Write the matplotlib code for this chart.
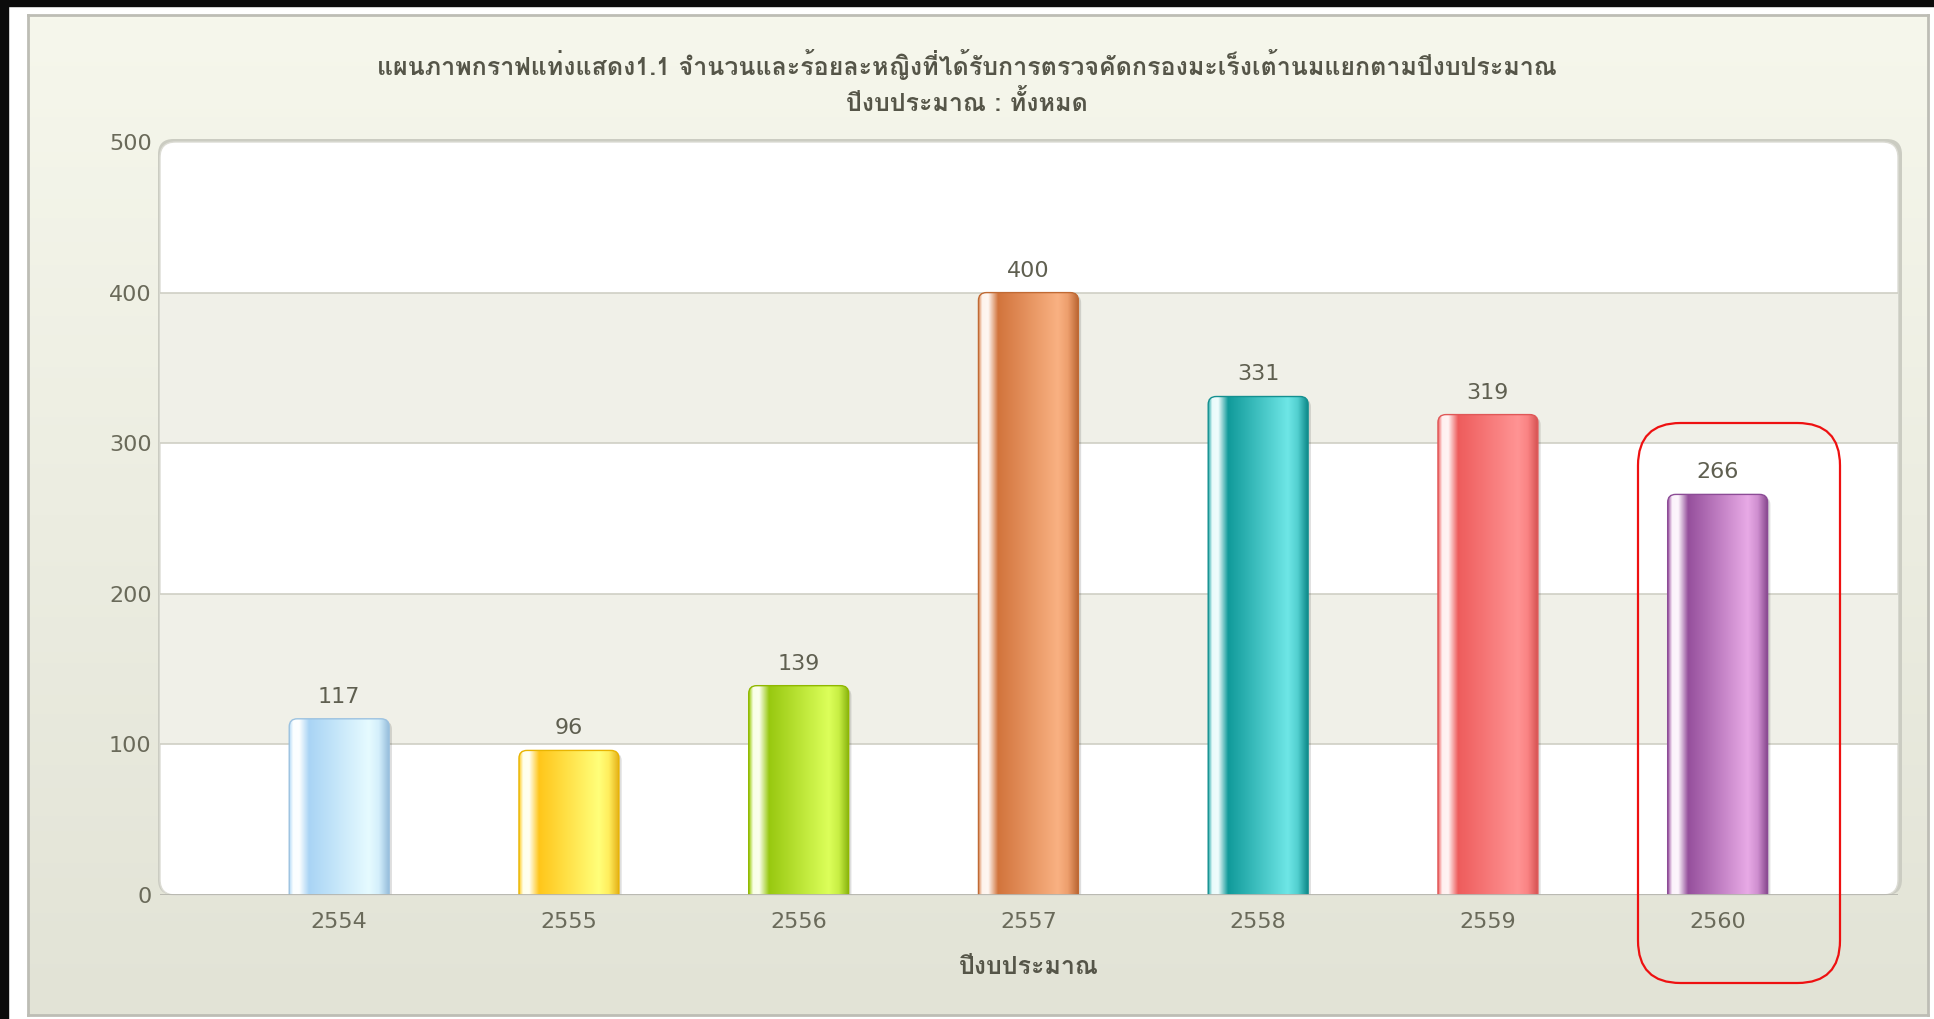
import numpy as np
import matplotlib
matplotlib.use('Agg')
import matplotlib.pyplot as plt
from matplotlib.patches import FancyBboxPatch, Rectangle
from matplotlib.colors import to_rgb

# data
years = ['2554', '2555', '2556', '2557', '2558', '2559', '2560']
counts = [117, 96, 139, 400, 331, 319, 266]
y_ticks = [0, 100, 200, 300, 400, 500]
title_1 = 'แผนภาพกราฟแท่งแสดง1.1 จำนวนและร้อยละหญิงที่ได้รับการตรวจคัดกรองมะเร็งเต้านมแยกตามปีงบประมาณ'
title_2 = 'ปีงบประมาณ : ทั้งหมด'
x_title = 'ปีงบประมาณ'

# bar colours: (dark, light)
bar_cols = [('#a9d4f5', '#e6fbff'), ('#ffc61a', '#ffff7a'), ('#98c810', '#dcff5a'),
            ('#d2743c', '#f9b182'), ('#109a9a', '#6ee6e6'), ('#ee5c5c', '#ff9494'),
            ('#954f9c', '#e8aae6')]
edge_cols = ['#9cc2e0', '#e8b400', '#90b800', '#c06a34', '#149090', '#e05858', '#8c4c96']

plt.rcParams['font.family'] = ['Loma', 'DejaVu Sans']

W, H = 1934, 1019
fig = plt.figure(figsize=(W / 100, H / 100), dpi=100)
fig.patch.set_facecolor('white')

# black frame strips
fig.patches.append(Rectangle((0, 1 - 6 / H), 1, 6 / H, transform=fig.transFigure, color='#0c0c0c', zorder=-5))
fig.patches.append(Rectangle((0, 0), 8 / W, 1, transform=fig.transFigure, color='#0c0c0c', zorder=-5))

# panel with vertical gradient
bg = fig.add_axes([28 / W, (H - 1015) / H, 1900 / W, 1000 / H])
bg.set_zorder(-4)
grad = np.linspace(0, 1, 256)[:, None, None]
top = np.array(to_rgb('#f6f7ec'))
bot = np.array(to_rgb('#e2e3d6'))
bg.imshow(top + (bot - top) * grad, aspect='auto', extent=[0, 1, 0, 1], origin='upper')
bg.set_xlim(0, 1)
bg.set_ylim(0, 1)
bg.set_xticks([])
bg.set_yticks([])
for s in bg.spines.values():
    s.set_color('#bdbdb5')
    s.set_linewidth(2)

# plot area
x0, x1, y0, y1 = 160, 1898, 142, 895
ax = fig.add_axes([x0 / W, (H - y1) / H, (x1 - x0) / W, (y1 - y0) / H])
ax.set_facecolor('none')

# shadow + rounded frame of the plot area
shadow = FancyBboxPatch((x0 / W - 2 / W, (H - y1) / H), (x1 - x0) / W + 6 / W, (y1 - y0) / H + 3 / H,
                        boxstyle='round,pad=0,rounding_size=0.008', transform=fig.transFigure,
                        facecolor='#cbccc2', edgecolor='none', zorder=-3, mutation_aspect=W / H)
fig.patches.append(shadow)
frame = FancyBboxPatch((x0 / W, (H - y1) / H), (x1 - x0) / W, (y1 - y0) / H,
                       boxstyle='round,pad=0,rounding_size=0.008', transform=fig.transFigure,
                       facecolor='white', edgecolor='#dcdcd4', linewidth=1, zorder=-2,
                       mutation_aspect=W / H)
fig.patches.append(frame)

# alternating bands
for i in range(len(y_ticks) - 1):
    if i % 2 == 1:
        ax.axhspan(y_ticks[i], y_ticks[i + 1], color='#f0f0e8', zorder=0, lw=0)
for t in y_ticks[1:-1]:
    ax.axhline(t, color='#cfcfc5', lw=1.2, zorder=0.5)
ax.axhline(0, color='#b5b5ad', lw=2, zorder=3)

x = np.arange(len(years))
bars = ax.bar(x, counts, width=0.435, color='none', edgecolor='none', zorder=2)


def bar_grad(dark, light):
    d = np.array(to_rgb(dark))
    l = np.array(to_rgb(light))
    w = np.ones(3)
    stops = [0.0, 0.04, 0.1, 0.2, 0.8, 0.9, 1.0]
    cols = [d * 0.85 + l * 0.15, w * 0.85 + l * 0.15, w * 0.9 + l * 0.1, d, l, l * 0.7 + d * 0.3, d * 0.9]
    xs = np.linspace(0, 1, 200)
    img = np.stack([np.interp(xs, stops, [c[k] for c in cols]) for k in range(3)], axis=-1)
    return img[None, :, :]


for i, b in enumerate(bars):
    bx, bw, bh = b.get_x(), b.get_width(), b.get_height()
    # small drop shadow
    sh = FancyBboxPatch((bx + 0.012, -20), bw, bh + 20 - 1.5, boxstyle='round,pad=0,rounding_size=0.035',
                        mutation_aspect=150, facecolor='#000000', alpha=0.13, edgecolor='none', zorder=1.5)
    ax.add_patch(sh)
    p = FancyBboxPatch((bx, -20), bw, bh + 20, boxstyle='round,pad=0,rounding_size=0.035',
                       mutation_aspect=150, facecolor='none', edgecolor=edge_cols[i], linewidth=1.0, zorder=2.5)
    ax.add_patch(p)
    im = ax.imshow(bar_grad(*bar_cols[i]), extent=[bx, bx + bw, 0, bh], aspect='auto', zorder=2)
    im.set_clip_path(p)
    ax.text(b.get_x() + bw / 2, bh + 8, str(counts[i]), ha='center', va='bottom',
            fontsize=16, color='#5f5f50', family=['DejaVu Sans'])

ax.set_xlim(-0.78, 6.785)
ax.set_ylim(0, 500)
ax.set_yticks(y_ticks)
ax.set_yticklabels([str(t) for t in y_ticks], fontsize=16, color='#6a6a5a', family=['DejaVu Sans'])
ax.set_xticks(x)
ax.set_xticklabels(years, fontsize=16, color='#6a6a5a', family=['DejaVu Sans'])
ax.tick_params(axis='x', length=0, pad=12)
ax.tick_params(axis='y', length=0, pad=6)
for s in ax.spines.values():
    s.set_visible(False)

fig.text(0.5, 1 - 64 / H, title_1, ha='center', va='center', fontsize=18, fontweight='bold', color='#555548')
fig.text(0.5, 1 - 103 / H, title_2, ha='center', va='center', fontsize=18, fontweight='bold', color='#555548')
fig.text((x0 + x1) / 2 / W, 1 - 967 / H, x_title, ha='center', va='center', fontsize=18,
         fontweight='bold', color='#555548')

# red highlight box around last bar
hl = FancyBboxPatch((1638 / W, (H - 983) / H), 202 / W, 560 / H, boxstyle='round,pad=0,rounding_size=0.022',
                    transform=fig.transFigure, facecolor='none', edgecolor='#ee1111', linewidth=1.6,
                    mutation_aspect=W / H, zorder=10)
fig.patches.append(hl)

fig.savefig('out.png', dpi=100)
